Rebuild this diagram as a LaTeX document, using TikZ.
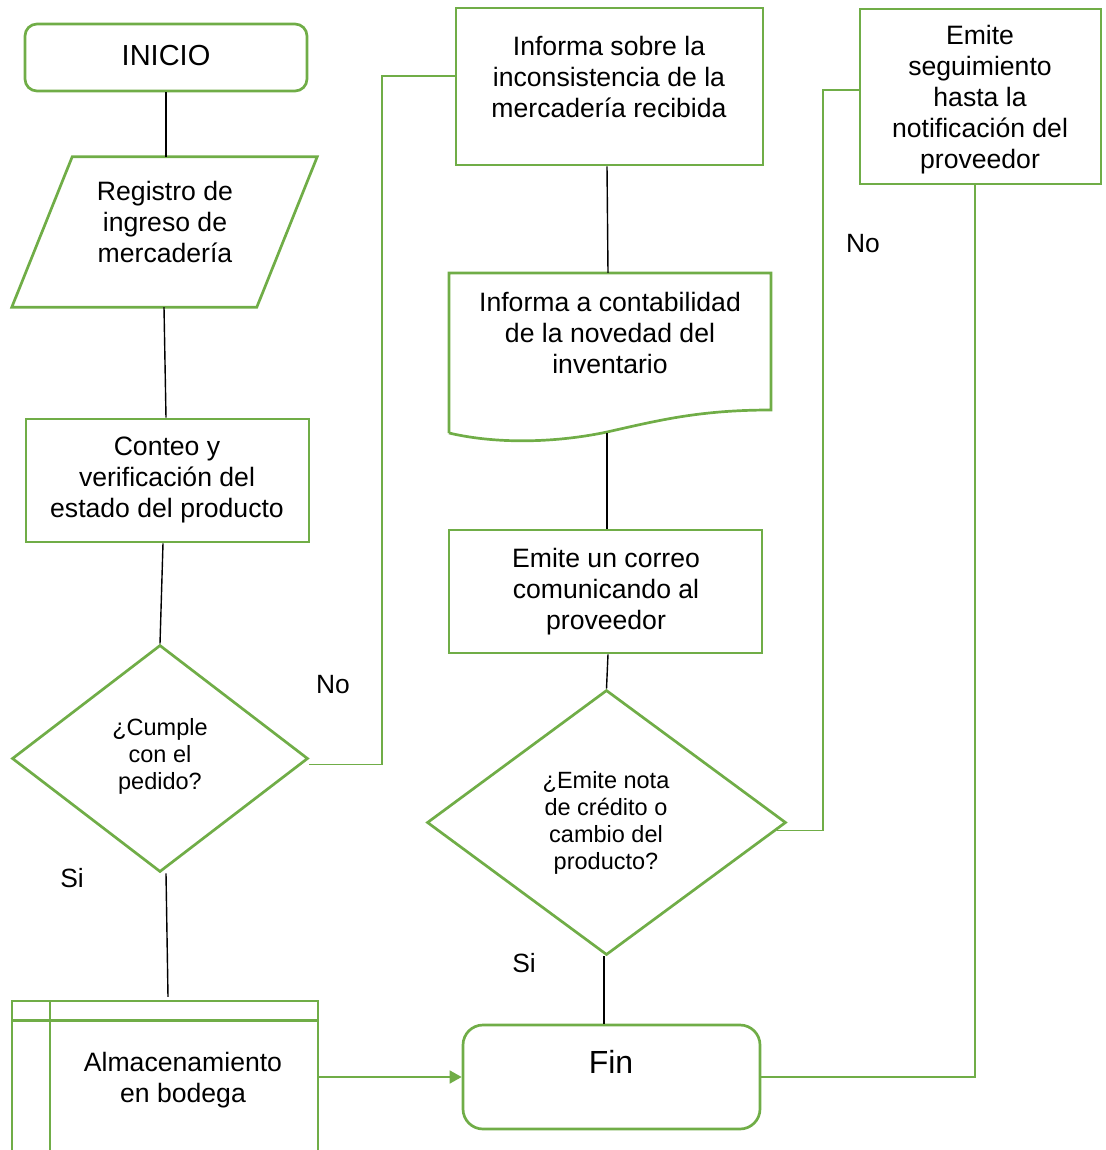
\documentclass[tikz,border=0pt]{standalone}
\usepackage{fontspec}
\setmainfont{Liberation Sans}
\usetikzlibrary{shapes.geometric,arrows.meta,calc}
\definecolor{gr}{HTML}{70AD47}
\begin{document}
\begin{tikzpicture}[x=1pt,y=-1pt,
  shp/.style={draw=gr,line width=2.7pt},
  box/.style={shp,rectangle,inner sep=0pt},
  ghost/.style={rectangle,draw=none,inner sep=0pt},
  dia/.style={shp,diamond,inner sep=0pt},
  txt/.style={font=\fontsize{26.6}{31}\selectfont,align=center,inner sep=0pt},
  dtxt/.style={font=\fontsize{23.5}{27}\selectfont,align=center,inner sep=0pt},
  lab/.style={font=\fontsize{26.4}{30}\selectfont,inner sep=0pt},
  bline/.style={draw=black,line width=1.4pt},
  gline/.style={draw=gr,line width=1.6pt},
  garr/.style={gline,-{Triangle[length=12pt,width=13pt]}}]
\useasboundingbox (0,0) rectangle (1105,1150);

% INICIO
\node[box,rounded corners=12pt,minimum width=282,minimum height=67] (ini) at (166,57.5) {};
\node[txt,font=\fontsize{29}{31}\selectfont] (tini) at (166,56) {INICIO};

% Registro (parallelogram)
\node[ghost,minimum width=305,minimum height=150] (reg) at (164.5,232) {};
\draw[shp,line join=miter] (reg.south west) -- ++(245,0) -- (reg.north east) -- ++(-245,0) -- cycle;
\node[txt] (treg) at (165,222) {Registro de\\ingreso de\\mercadería};

% Conteo
\node[box,minimum width=283,minimum height=123] (con) at (167.5,480.5) {};
\node[txt] (tcon) at (167,480) {Conteo y\\verificación del\\estado del producto};

% Diamond 1
\node[dia,aspect=1.3,minimum width=296,minimum height=227] (d1) at (160,758.5) {};
\node[dtxt] (td1) at (160,756) {¿Cumple\\con el\\pedido?};

% Almacenamiento (internal storage, cut at bottom)
\node[ghost,minimum width=306,minimum height=149] (sto) at (165,1075.5) {};
\draw[shp] (12,1150) -- (12,1001) -- (318,1001) -- (318,1150);
\draw[shp] (12,1020.5) -- (318,1020.5);
\draw[shp] (50,1001) -- (50,1150);
\node[txt] (tsto) at (183,1080) {Almacenamiento\\en bodega};

% Fin
\node[box,rounded corners=20pt,minimum width=297,minimum height=104] (fin) at (611.5,1077) {};
\node[txt,font=\fontsize{32}{34}\selectfont] (tfin) at (611,1062) {Fin};

% Informa sobre
\node[box,minimum width=307,minimum height=157] (inf) at (609.5,86.5) {};
\node[txt] (tinf) at (609,77) {Informa sobre la\\inconsistencia de la\\mercadería recibida};

% Informa a contabilidad (document)
\node[ghost,minimum width=322,minimum height=168] (doc) at (610,357) {};
\draw[shp,line join=miter] (449,433) -- (449,273) -- (771,273) -- (771,410)
  .. controls (700,410) and (660,420) .. (607,432)
  .. controls (560,442) and (500,445) .. (449,433);
\node[txt] (tdoc) at (610,333) {Informa a contabilidad\\de la novedad del\\inventario};

% Emite un correo
\node[box,minimum width=313,minimum height=123] (cor) at (605.5,591.5) {};
\node[txt] (tcor) at (606,592) {Emite un correo\\comunicando al\\proveedor};

% Diamond 2
\node[dia,aspect=1.355,minimum width=359,minimum height=265] (d2) at (606.5,822.5) {};
\node[dtxt] (td2) at (606,823) {¿Emite nota\\de crédito o\\cambio del\\producto?};

% Emite seguimiento
\node[box,minimum width=241,minimum height=175] (seg) at (980.5,96.5) {};
\node[txt] (tseg) at (980,100) {Emite\\seguimiento\\hasta la\\notificación del\\proveedor};

% Labels
\node[lab] (no1) at (333,685) {No};
\node[lab] (no2) at (863,244) {No};
\node[lab] (si1) at (72,878) {Si};
\node[lab] (si2) at (524,963) {Si};

% Black connectors
\draw[bline,line width=2pt] (ini.south) -- (ini.south |- reg.north);
\draw[bline] ($(reg.south)+(-0.5,0)$) -- ($(con.north)+(-1.5,0)$);
\draw[bline] ($(con.south)+(-4.5,0)$) -- (d1.north);
\draw[bline] ($(d1.south)+(6,0)$) -- ($(sto.north)+(3,-4)$);
\draw[bline] ($(inf.south)+(-2.5,0)$) -- ($(doc.north)+(-2,0)$);
\draw[bline] (607,433) -- ($(cor.north)+(1.5,0)$);
\draw[bline] ($(cor.south)+(2.5,0)$) -- (d2.north);
\draw[bline] ($(d2.south)+(-2.5,0)$) -- ($(fin.north)+(-7.5,0)$);

% Green connectors
\draw[gline] ($(d1.east)+(0,6)$) -- (382,764.5) |- ($(inf.west)+(0,-10.5)$);
\draw[gline] ($(d2.east)+(-10,8)$) -- (823,830.5) |- ($(seg.west)+(0,-6.5)$);
\draw[gline] (fin.east) -- (975,1077) -- ($(seg.south)+(-5.5,0)$);
\draw[garr] (sto.east |- fin.west) -- (fin.west);
\end{tikzpicture}
\end{document}
